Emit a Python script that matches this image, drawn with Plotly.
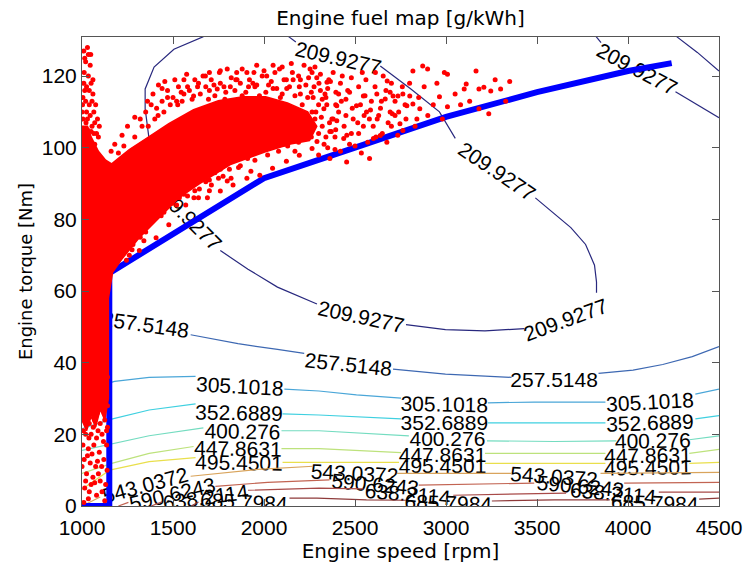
import plotly.graph_objects as go

# ---------------------------------------------------------------------------
# Fuel map contour levels [g/kWh]
levels = [209.9277, 257.5148, 305.1018, 352.6889, 400.276, 447.8631,
          495.4501, 543.0372, 590.6243, 638.2114, 685.7984]

level_colors = ['#28287e', '#3d68b2', '#4aa6d8', '#3fd0e0', '#74dcc0',
                '#bde27c', '#e9df4c', '#d9a45c', '#c26452', '#a84a48', '#8e3a3a']

# Iso-BSFC lines (speed [rpm], torque [Nm]); None opens a gap for the inline label
c209_rpm = [1667, 1505, 1396, 1347, 1347, 1364, 1385, 1418, None,
            1760, 1912, 2074, 2291, None,
            2780, 2997, 3214, 3431, None,
            3827, 3827, 3816, 3767, 3686, 3583, 3491, None,
            3051, 2964, 2807, 2639, None,
            2135, 2175, None,
            3825, 3852, None,
            4261, 4380, 4500, None,
            4267, 4381, 4500]
c209_nm = [131, 127.5, 122.5, 116.4, 110.9, 104.5, 96, 90.7, None,
           71.3, 66.1, 61.1, 56.4, None,
           50.6, 49.2, 48.9, 49.5, None,
           59.5, 62.5, 67.2, 73.0, 77.7, 82.1, 86.0, None,
           102.6, 110.0, 116.4, 122.8, None,
           131, 129.5, None,
           131, 129.3, None,
           115.6, 112.0, 108.4, None,
           131, 126.6, 121.4]

c257_rpm = [1000, 1100, None, 1597, 1857, 2074, 2221, None,
            2709, 2997, 3360, None, 3838, 4028, 4191, 4353, 4500]
c257_nm = [55.8, 54.8, None, 47.8, 45.3, 43.7, 42.6, None,
           38.2, 36.8, 35.9, None, 37.0, 37.9, 39.5, 41.7, 44.5]

c305_rpm = [1000, 1179, 1369, 1624, None, 2112, 2302, 2508, 2753, None,
            3230, 3485, 3876, None, 4370, 4500]
c305_nm = [32.1, 34.8, 35.9, 36.2, None, 32.6, 32.1, 31.0, 30.1, None,
           28.8, 29.0, 29.0, None, 31.2, 32.6]

c352_rpm = [1000, 1168, 1369, 1624, None, 2102, 2302, 2753, None,
            3230, 3594, 3876, None, 4370, 4500]
c352_nm = [21.6, 24.3, 26.8, 28.5, None, 25.7, 25.4, 24.3, None,
           23.2, 23.2, 23.2, None, 24.3, 25.2]

c400_rpm = [1000, 1163, 1369, 1667, None, 2096, 2302, 2796, None,
            3225, 3594, 3936, None, 4337, 4500]
c400_nm = [15.5, 17.4, 19.6, 21.8, None, 21.0, 21.0, 19.6, None,
           18.2, 18.0, 18.2, None, 18.5, 19.6]

c447_rpm = [1000, 1163, 1369, 1613, None, 2096, 2302, 2753, None,
            3214, 3594, 3876, None, 4337, 4500]
c447_nm = [9.1, 11.9, 14.7, 16.6, None, 16.0, 16.0, 14.9, None,
           14.7, 14.7, 14.7, None, 14.7, 15.8]

c495_rpm = [1000, 1071, 1152, 1369, 1624, None, 2102, 2302, 2742, None,
            3214, 3594, 3876, None, 4337, 4500]
c495_nm = [4.7, 7.2, 10.0, 12.4, 13.5, None, 12.2, 12.2, 12.2, None,
           11.9, 11.9, 11.9, None, 11.9, 12.2]

c543_rpm = [1011, 1100, None, 1597, 1966, 2270, None,
            2730, 3051, 3360, None, 3849, 4500]
c543_nm = [0.3, 2.5, None, 8.3, 10.2, 11.1, None,
           9.1, 9.1, 9.1, None, 9.1, 9.4]

c590_rpm = [1200, 1255, None, 1733, 2020, 2360, None,
            2850, 3160, 3485, None, 3979, 4500]
c590_nm = [0, 1.0, None, 5.5, 6.6, 7.3, None,
           5.8, 6.1, 6.4, None, 6.4, 6.6]

c638_rpm = [1380, 1440, None, 1912, 2302, 2546, None,
            3040, 3660, None, 4169, 4500]
c638_nm = [0, 1.2, None, 4.4, 5.0, 4.8, None,
           3.0, 3.6, None, 3.9, 3.9]

c685_rpm = [1600, 1640, None, 2140, 2291, 2563, 2780, None,
            3252, 3594, 3900, None, 4391, 4500]
c685_nm = [0, 1.1, None, 2.2, 2.2, 1.7, 1.6, None,
           1.4, 1.7, 1.7, None, 1.9, 2.2]

contour_paths = [(c209_rpm, c209_nm), (c257_rpm, c257_nm), (c305_rpm, c305_nm),
                 (c352_rpm, c352_nm), (c400_rpm, c400_nm), (c447_rpm, c447_nm),
                 (c495_rpm, c495_nm), (c543_rpm, c543_nm), (c590_rpm, c590_nm),
                 (c638_rpm, c638_nm), (c685_rpm, c685_nm)]

# Inline contour labels: (level index, speed, torque, text angle in degrees)
label_specs = [
    (0, 1586, 81.3, 45), (0, 2536, 53.4, 12), (0, 3653, 52.5, -20),
    (0, 3287, 93.9, 34), (0, 2411, 125.6, 13), (0, 4055, 122.5, 28),
    (1, 1351, 51.2, 8), (1, 2465, 40.1, 6), (1, 3594, 35.9, 0),
    (2, 1868, 34.0, 3), (2, 2991, 29.0, 1), (2, 4120, 29.6, -3),
    (3, 1863, 26.6, 1), (3, 2991, 23.8, 0), (3, 4120, 23.8, -2),
    (4, 1882, 21.4, 1), (4, 3008, 19.4, 0), (4, 4136, 18.8, -1),
    (5, 1857, 16.6, 1), (5, 2981, 14.9, 0), (5, 4109, 14.7, -1),
    (6, 1863, 12.7, 1), (6, 2981, 11.9, 0), (6, 4109, 11.3, -1),
    (7, 1345, 6.4, -15), (7, 2498, 9.7, 3), (7, 3594, 8.8, 4),
    (8, 1494, 3.9, -13), (8, 2612, 6.6, 5), (8, 3740, 6.1, 5),
    (9, 1678, 3.0, -8), (9, 2791, 3.9, 5), (9, 3919, 4.1, 5),
    (10, 1890, 1.7, 3), (10, 3013, 1.4, 2), (10, 4147, 1.4, 2),
]

# Optimal operating line
opt_rpm = [1000, 1150, 1150, 2000, 2500, 3000, 3500, 4000, 4240]
opt_nm = [0, 0, 65, 91.5, 100, 108.6, 115.5, 121.4, 123.6]

# Saturated part of the logged operating points (outline of the dense area)
core_rpm = [1000, 1030, 1050, 1090, 1130, 1163, 1200, 1260, 1369, 1477, 1613,
            1749, 1884, 2009, 2129, 2240, 2290, 2250, 2145, 2004, 1819, 1640,
            1532, 1423, 1315, 1217, 1168, 1145, 1145, 1125, 1100, 1075, 1050,
            1025, 1000]
core_nm = [106, 106, 103, 99, 96.5, 95.5, 97, 99.5, 103.1, 106.7, 110.6,
           113.1, 114.2, 114.2, 112.5, 110, 106, 102, 101, 98.8, 95.4, 89.8,
           86.0, 80.4, 74.9, 68.8, 65.2, 58, 30, 24, 27, 22, 25,
           21, 24]

# Individual logged operating points around the dense area
cloud_rpm = [
    # low-load column
    1005, 1030, 1060, 1090, 1120, 1140, 1015, 1045, 1075, 1105, 1130, 1003, 1025,
    1055, 1085, 1115, 1140, 1010, 1040, 1070, 1100, 1125, 1020, 1050, 1080, 1110,
    1135, 1005, 1035, 1065, 1095, 1012, 1045, 1075, 1120, 1025, 1060, 1100, 1015,
    1040, 1080, 1010, 1130, 1135,
    1008, 1038, 1062, 1088, 1118, 1140, 1030, 1055, 1085, 1108, 1138, 1020, 1050,
    1090, 1110, 1000, 1035, 1070, 1125,
    # left arm
    1010, 1030, 1020, 1045, 1035, 1050, 1015, 1060, 1040, 1025, 1065, 1005, 1055,
    1080, 1030, 1070, 1012, 1048, 1003, 1008, 1018,
    1000, 1005, 1010, 1020, 1025, 1030, 1040, 1045, 1055, 1060, 1070, 1075, 1085,
    1090, 1095, 1015, 1035, 1022, 1050, 1065,
    1180, 1220, 1250, 1290, 1160,
    # above the band
    1364, 1418, 1526, 1613, 1678, 1743, 1798, 1852, 1906, 1960, 1939, 2015, 2085,
    2123, 2156, 2194, 2264, 2302, 2356, 2340, 2394, 2373, 2264, 2231, 2177, 2340,
    2394, 2264, 2194, 2123, 2047, 1977, 1906, 1830, 1760, 1689, 1798,
    1290, 1330, 1400, 1450, 1520, 1560, 1700, 1780, 1950, 2050, 2100, 1230, 1200,
    1470, 1580, 1640, 2210, 2240,
    1320, 1350, 1380, 1410, 1440, 1470, 1500, 1530, 1550, 1590, 1620, 1650, 1680,
    1710, 1730, 1760, 1790, 1820, 1840, 1870, 1900, 1920, 1960, 1990, 2010, 2040,
    2070, 2110, 2140, 2170, 2190, 2230, 2260, 2290, 2320, 2350, 2420, 2450, 1850,
    1700, 1560, 1440, 2000, 2280, 2380,
    1360, 1390, 1420, 1455, 1485, 1510, 1545, 1575, 1605, 1635, 1665, 1695, 1725,
    1755, 1785, 1815, 1845, 1880, 1915, 1945, 1975, 2025, 2060, 2090, 2125, 2160,
    2200, 2245, 2275, 2310, 2335, 2365, 2395, 2430, 2460,
    # between band and operating line
    1250, 1350, 1450, 1560, 1700, 1870, 1950, 2080, 2200, 2230, 1407, 1477, 1570,
    1711, 1819, 1928, 1315, 1244, 1640,
    1200, 1230, 1260, 1280, 1300, 1330, 1360, 1390, 1420, 1450, 1480, 1510, 1540,
    1600, 1620, 1660, 1680, 1730, 1760, 1790, 1840, 1880, 1910, 1960, 1990, 2030,
    2060, 2110, 2150, 2170, 1260, 1340, 1520, 1580, 1750,
    1180, 1210, 1275, 1320, 1375, 1435, 1465, 1495, 1535, 1615, 1645, 1700, 1775,
    1810, 1860, 1940, 2020, 2095, 2130, 2190,
    # higher speed, sparse
    2546, 2579, 2362, 2454, 2438, 2362, 2291, 2329, 2400, 2508, 2546, 2470, 2346,
    2253, 2563, 2601,
    2612, 2655, 2677, 2666, 2693, 2709, 2736, 2763, 2801, 2785, 2818, 2622, 2682,
    2747, 2840, 2763, 2639, 2693, 2818, 2872, 2899, 2991, 3008, 3111, 3100, 3165,
    3181, 3208, 3246, 3300, 2964, 3008, 3181, 3235, 3328, 2856,
    2250, 2280, 2300, 2320, 2350, 2380, 2410, 2420, 2450, 2480, 2500, 2520, 2560,
    2590, 2620, 2640, 2700, 2720, 2580, 2270, 2310, 2200, 2220, 2150, 2100, 2050,
    1880, 1760,
    2300, 2330, 2360, 2390, 2410, 2440, 2470, 2490, 2520, 2530, 2550, 2570, 2600,
    2610, 2630, 2650, 2670, 2700, 2720, 2740, 2760, 2780, 2800, 2830, 2850, 2880,
    2900, 2930, 2950, 2980, 3050, 3080, 3130, 3270, 3350, 2480, 2540, 2390, 2300,
    2260, 2285, 2315, 2345, 2370, 2400, 2425, 2455, 2485, 2515, 2535, 2555, 2585,
    2615, 2645, 2675, 2705, 2735, 2775,
]
cloud_nm = [
    # low-load column
    36, 34, 35, 33, 34, 36, 31, 30, 31, 30, 31, 28, 27,
    27, 26, 27, 28, 24, 23, 24, 23, 24, 20, 20, 19, 20,
    21, 17, 16, 17, 15, 13, 12, 11, 13, 9, 8, 7, 5,
    4, 3, 1, 6, 17,
    21, 19, 22, 21, 18, 22, 14, 14.5, 12.5, 11, 10, 7, 6,
    9, 4, 11, 2, 6.5, 1.5,
    # left arm
    127, 128, 124, 123, 120, 118, 116, 115, 112, 110, 110, 108, 106,
    104, 105, 101, 121, 126, 112, 104, 102,
    110, 114, 118, 113, 117, 108, 116, 109, 113, 119, 107, 112, 108,
    103, 106, 125, 126, 107, 104.5, 104,
    101, 103.5, 106, 108.5, 99,
    # above the band
    106, 109, 112, 114.4, 120, 116.4, 122, 119, 121, 123, 118, 120, 122,
    119, 121, 117, 121, 118, 119, 114, 112, 108, 110, 105, 102.6, 103,
    105, 99.8, 97.9, 96.2, 94.3, 92.3, 91.5, 89.6, 87.9, 86, 90.7,
    103, 106, 108, 110, 113, 115, 116, 117, 117, 116.5, 115, 100.5, 98.5,
    114, 117, 118, 112, 114,
    108, 110, 112, 111, 113, 116, 114, 117, 113, 116, 119, 115, 117,
    119, 114.5, 118, 115.5, 119.5, 116, 118, 115.5, 119, 117.5, 120, 115.5, 118.5,
    116.5, 119, 117, 114.5, 120, 117.5, 115.5, 119.5, 113.5, 116.5, 118, 113.5, 121,
    121, 119, 116.5, 121.5, 122.5, 121,
    113, 115, 117.5, 118.5, 112, 119, 115.5, 120.5, 113.5, 117, 120, 113.5, 117.5,
    121, 113.5, 117, 119, 114.5, 117, 121, 114.5, 117.5, 121, 114, 116.5, 119,
    115, 119.5, 117, 120.5, 115, 118.5, 115.5, 120, 116,
    # between band and operating line
    72, 76.5, 82, 87, 91, 95, 96.5, 99, 104, 108, 74.9, 78.5, 84,
    89.6, 91.5, 93.4, 71.3, 68.6, 86,
    71, 74, 76, 73, 78, 80, 78.5, 83, 85, 84, 87, 89, 88.5,
    90, 88, 92, 90.5, 93, 94, 96, 97, 98, 97, 99.5, 101, 100,
    102.5, 101, 104, 99, 70, 74, 84, 86.5, 91.5,
    68, 69.5, 71.5, 75, 80, 81, 85, 84.5, 86, 86, 88.5, 88, 92,
    94, 94.5, 98.5, 98, 104, 100.5, 101.5,
    # higher speed, sparse
    106, 108, 97, 96, 102.6, 104.5, 101.7, 110.9, 111.7, 111.7, 114.4, 115.5, 118.3,
    122, 110, 102.6,
    121, 120, 118.6, 113.6, 115.5, 114.4, 114.4, 115, 114.4, 111.7, 112.2, 108, 107,
    106.7, 108, 104.8, 103.4, 110, 121.4, 122.8, 122, 121, 120.5, 117.8, 116.4, 121.4,
    116.4, 116.9, 115.8, 116.4, 114.2, 111.4, 110.9, 109.5, 113, 110.9,
    106, 108, 112, 106, 100, 108, 115, 99, 109, 104, 100.5, 117, 119,
    113, 115, 111, 118, 109, 97, 114, 116, 119, 123, 123.5, 122.5, 123,
    122, 121.5,
    104, 101, 107, 103, 110, 106, 101, 108, 104, 112, 109, 101.5, 106,
    117, 109, 104, 116, 106, 113, 110, 117, 108, 118, 106, 114, 117,
    109, 112, 118, 108, 115, 112, 113, 119, 118.5, 119.5, 121, 99.5, 98,
    103, 110, 108.5, 112, 104.5, 107.5, 113, 103.5, 111, 107, 98.5, 114.5, 110.5,
    103, 113, 101.5, 109.5, 103.5, 112,
]

x_ticks = [1000, 1500, 2000, 2500, 3000, 3500, 4000, 4500]
y_ticks = [0, 20, 40, 60, 80, 100, 120]


def level_text(v):
    return f"{v:.4f}".rstrip('0').rstrip('.')


fig = go.Figure()

for (xs, ys), color in zip(contour_paths, level_colors):
    fig.add_trace(go.Scatter(x=xs, y=ys, mode='lines', connectgaps=False,
                             line=dict(color=color, width=1.2),
                             hoverinfo='skip', showlegend=False))

fig.add_trace(go.Scatter(x=opt_rpm, y=opt_nm, mode='lines',
                         line=dict(color='#0000ff', width=6),
                         hoverinfo='skip', showlegend=False))

fig.add_trace(go.Scatter(x=core_rpm, y=core_nm, mode='lines', fill='toself',
                         fillcolor='#ff0000', line=dict(color='#ff0000', width=1.5),
                         hoverinfo='skip', showlegend=False))

fig.add_trace(go.Scatter(x=cloud_rpm, y=cloud_nm, mode='markers',
                         marker=dict(color='#ff0000', size=5, line=dict(width=0)),
                         hoverinfo='skip', showlegend=False))

label_font = dict(family='Liberation Sans, Arial, sans-serif', size=21, color='black')
for idx, r, n, ang in label_specs:
    fig.add_shape(type='line', xref='x', yref='y', x0=r, x1=r, y0=n, y1=n,
                  layer='below', line=dict(width=0, color='rgba(0,0,0,0)'),
                  label=dict(text=level_text(levels[idx]), textangle=ang,
                             font=label_font, textposition='middle',
                             xanchor='center', yanchor='middle', padding=0))

axis_common = dict(showgrid=False, zeroline=False, showline=True, mirror='ticks',
                   linecolor='#555555', linewidth=1, ticks='inside', ticklen=7,
                   tickcolor='#555555',
                   tickfont=dict(family='Liberation Sans, Arial, sans-serif',
                                 size=21, color='black'))

fig.update_layout(
    width=754, height=569, autosize=False,
    margin=dict(l=82, r=27, t=37, b=58),
    paper_bgcolor='white', plot_bgcolor='white',
    title=dict(text='Engine fuel map [g/kWh]', x=0.5, xref='paper', xanchor='center',
               y=1 - 18 / 569, yref='container', yanchor='middle',
               font=dict(family='DejaVu Sans', size=20, color='black')),
    xaxis=dict(range=[1000, 4500], tickvals=x_ticks, ticklabelstandoff=3,
               title=dict(text='Engine speed [rpm]', standoff=4,
                          font=dict(family='DejaVu Sans', size=20, color='black')),
               **axis_common),
    yaxis=dict(range=[0, 130.9], tickvals=y_ticks,
               title=dict(text='Engine torque [Nm]', standoff=4,
                          font=dict(family='DejaVu Sans', size=18, color='black')),
               **axis_common),
)

fig.write_html("out.html")
